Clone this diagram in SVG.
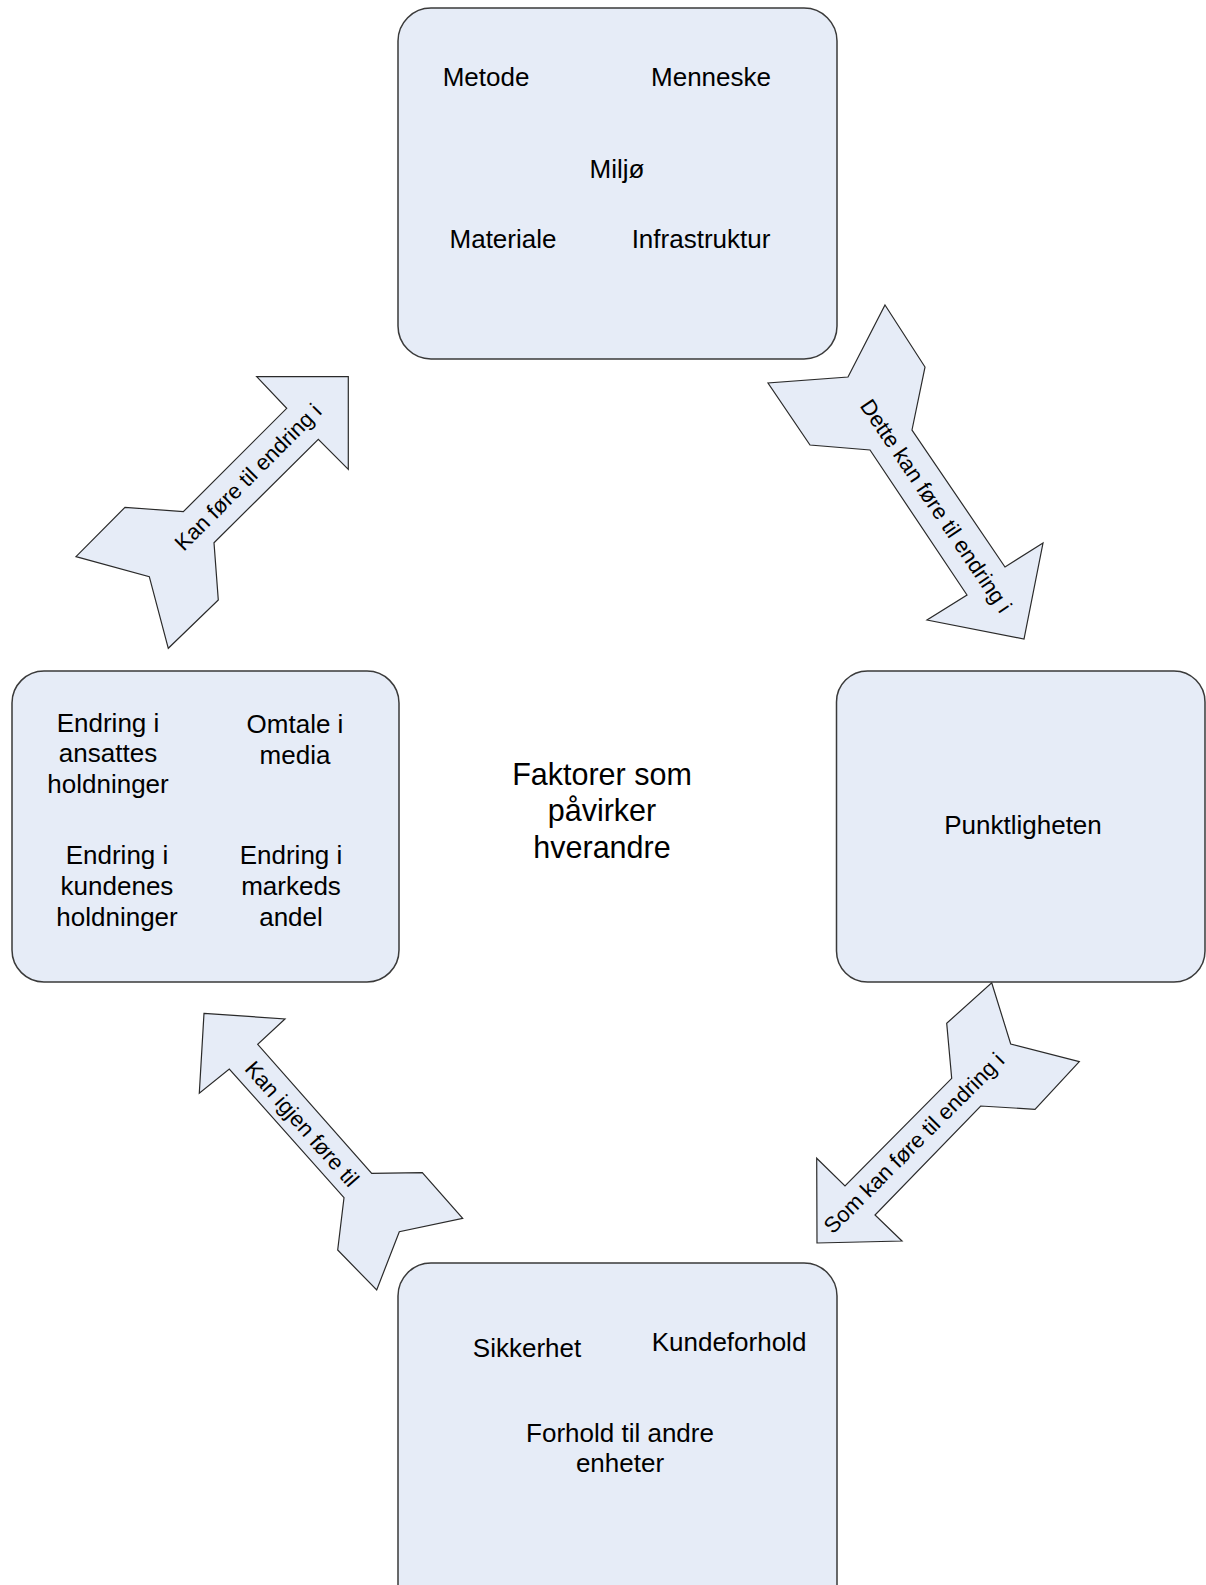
<svg xmlns="http://www.w3.org/2000/svg" width="1206" height="1585" viewBox="0 0 1206 1585">
  <style>
    .box { fill: #e6ecf7; stroke: #3a3a3a; stroke-width: 1.5; }
    .arrow { fill: #e6ecf7; stroke: #2a2a2a; stroke-width: 1.2; stroke-linejoin: miter; }
    .t { font-family: "Liberation Sans", Arial, sans-serif; font-size: 26px; fill: #000; text-anchor: middle; }
    .big { font-size: 30.5px; }
    .lbl { font-family: "Liberation Sans", Arial, sans-serif; font-size: 22px; fill: #000; text-anchor: middle; dominant-baseline: central; }
  </style>
  <rect width="1206" height="1585" fill="#ffffff"/>

  <!-- block arrows between the four areas -->
  <g id="connectors">
    <g id="arrow-top-right">
      <polygon class="arrow" points="885,305 925,367 912,430 1005,567 1043,543 1024,639 927,620 967,595 870,450 810,445 768,383 848,377"/>
      <text class="lbl" transform="translate(936,506) rotate(56)">Dette kan føre til endring i</text>
    </g>
    <g id="arrow-right-bottom">
      <polygon class="arrow" points="991.7,982.7 1010.7,1044 1079.3,1061.7 1035,1109.3 980.7,1106 875,1215 902,1241 817,1243 816.7,1158.3 845,1186 951.7,1078.3 946.7,1023.3"/>
      <text class="lbl" transform="translate(914,1143) rotate(-45)">Som kan føre til endring i</text>
    </g>
    <g id="arrow-bottom-left">
      <polygon class="arrow" points="204,1013.3 285,1019 257.7,1044.3 371.7,1173.3 422.3,1172.7 462.7,1218.3 399.3,1231.7 376.7,1290 337.7,1250 344,1197.7 229.3,1069 199.3,1093.3"/>
      <text class="lbl" transform="translate(302,1124) rotate(48.5)">Kan igjen føre til</text>
    </g>
    <g id="arrow-left-top">
      <polygon class="arrow" points="348.3,376.7 348.3,469.3 318.3,439.3 214,542.7 218.3,600 168.3,648.3 149.3,576.7 76,556.7 125,507.3 183.3,511.7 286.7,408.3 256.7,376.7"/>
      <text class="lbl" transform="translate(248,477) rotate(-45)">Kan føre til endring i</text>
    </g>
  </g>

  <!-- top: factors -->
  <g id="node-factors">
    <rect class="box" x="398" y="8" width="439" height="351" rx="33" ry="33"/>
    <text class="t" x="486" y="86">Metode</text>
    <text class="t" x="711" y="86">Menneske</text>
    <text class="t" x="617" y="178">Miljø</text>
    <text class="t" x="503" y="248">Materiale</text>
    <text class="t" x="701" y="248">Infrastruktur</text>
  </g>

  <!-- right: punctuality -->
  <g id="node-punctuality">
    <rect class="box" x="836.5" y="671" width="368.5" height="311" rx="31" ry="31"/>
    <text class="t" x="1023" y="834">Punktligheten</text>
  </g>

  <!-- bottom: relations -->
  <g id="node-relations">
    <rect class="box" x="398" y="1263" width="439" height="360" rx="33" ry="33"/>
    <text class="t" x="527" y="1357">Sikkerhet</text>
    <text class="t" x="729" y="1351">Kundeforhold</text>
    <text class="t" x="620" y="1442">Forhold til andre</text>
    <text class="t" x="620" y="1472">enheter</text>
  </g>

  <!-- left: attitudes and market -->
  <g id="node-attitudes">
    <rect class="box" x="12" y="671" width="387" height="311" rx="32" ry="32"/>
    <text class="t" x="108" y="732">Endring i</text>
    <text class="t" x="108" y="762">ansattes</text>
    <text class="t" x="108" y="793">holdninger</text>
    <text class="t" x="295" y="733">Omtale i</text>
    <text class="t" x="295" y="764">media</text>
    <text class="t" x="117" y="864">Endring i</text>
    <text class="t" x="117" y="895">kundenes</text>
    <text class="t" x="117" y="926">holdninger</text>
    <text class="t" x="291" y="864">Endring i</text>
    <text class="t" x="291" y="895">markeds</text>
    <text class="t" x="291" y="926">andel</text>
  </g>

  <!-- centre caption -->
  <g id="node-caption">
    <text class="t big" x="602" y="785">Faktorer som</text>
    <text class="t big" x="602" y="821">påvirker</text>
    <text class="t big" x="602" y="858">hverandre</text>
  </g>
</svg>
